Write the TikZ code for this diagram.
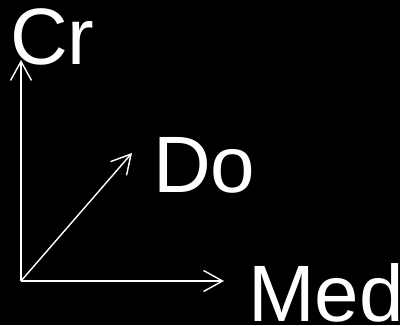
\documentclass[tikz,border=0pt]{standalone}
\usepackage{fontspec}
\setmainfont{Liberation Sans}
\usetikzlibrary{arrows.meta}
\begin{document}
\begin{tikzpicture}[x=1pt,y=1pt,
  axis/.style={white,line width=1.4pt,-{Straight Barb[length=19pt,width=21pt,line width=1.4pt]}},
  lbl/.style={white,inner sep=0pt,anchor=base west,font=\fontsize{80}{82}\selectfont}]
\fill[black] (0,0) rectangle (400,325);
\useasboundingbox (0,0) rectangle (400,325);
\coordinate (O) at (21,44);
\coordinate (up) at (21,265);
\coordinate (right) at (224,44);
\coordinate (diag) at (132,172);
\draw[axis] (O) -- (up);
\draw[axis] (O) -- (right);
\draw[axis] (O) -- (diag);
\node[lbl] (cr) at (10,261) {Cr};
\node[lbl] (do) at (153,133) {Do};
\node[lbl] (med) at (248,4) {Med};
\end{tikzpicture}
\end{document}
